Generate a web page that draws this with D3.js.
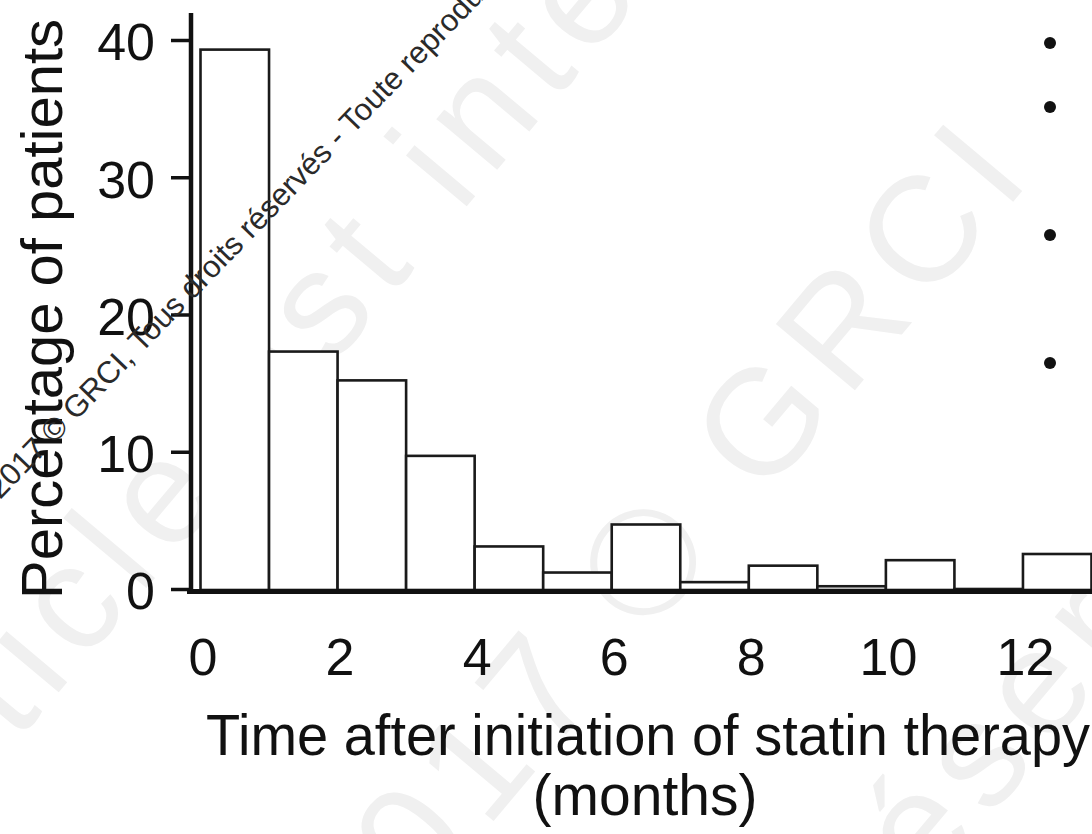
<!DOCTYPE html>
<html>
<head>
<meta charset="utf-8">
<script src="https://cdn.jsdelivr.net/npm/d3@7"></script>
<style>
  html, body { margin: 0; padding: 0; background: #fff; }
  svg { display: block; }
  text { font-family: "Liberation Sans", Arial, Helvetica, sans-serif; }
</style>
</head>
<body>
<svg id="chart" width="1092" height="834"></svg>
<script>
// ---- data ----
const binStarts = [0, 1, 2, 3, 4, 5, 6, 7, 8, 9, 10, 11, 12];
const percentages = [39.3, 17.3, 15.2, 9.7, 3.1, 1.2, 4.7, 0.5, 1.7, 0.2, 2.1, 0, 2.55];
const xTickValues = [0, 2, 4, 6, 8, 10, 12];
const yTickValues = [0, 10, 20, 30, 40];
const legendDotRows = [0, 1, 3, 5];   // bullets of a cropped legend (row index)
const xTitle = "Time after initiation of statin therapy";
const xSubTitle = "(months)";
const yTitle = "Percentage of patients";
const watermarkSmall = "2017 © GRCI, Tous droits réservés - Toute reproduction interdite";
const watermarkBig = [
  "Cet article est intégralement",
  "2017 © GRCI",
  "droits réservés"
];

// ---- layout ----
const svg = d3.select("#chart");
const W = 1092, H = 834;

const x = d3.scaleLinear().domain([0, 13]).range([200.5, 1091.5]);
const y = d3.scaleLinear().domain([0, 40]).range([589, 40]);
const baseY = y(0);
const axisX = 191;

// faint background watermark
const wm = svg.append("g").attr("fill", "#f0f0f0");
const wmAnchors = [[-300, 1120], [361, 979], [560, 1330]];
watermarkBig.forEach((t, i) => {
  wm.append("text")
    .attr("transform", `translate(${wmAnchors[i][0]},${wmAnchors[i][1]}) rotate(-50)`)
    .attr("font-size", 150)
    .attr("letter-spacing", 14)
    .text(t);
});

// bars
svg.append("g").selectAll("rect")
  .data(binStarts)
  .join("rect")
  .attr("x", d => x(d))
  .attr("width", d => x(d + 1) - x(d))
  .attr("y", (d, i) => y(percentages[i]))
  .attr("height", (d, i) => baseY + 1 - y(percentages[i]))
  .attr("fill", "#fff")
  .attr("stroke", "#1a1a1a")
  .attr("stroke-width", 2.6);

// y axis
const yAxis = d3.axisLeft(y).tickValues(yTickValues).tickSize(20).tickPadding(16);
const gy = svg.append("g").attr("transform", `translate(${axisX},0)`).call(yAxis);
gy.select(".domain").remove();
gy.selectAll(".tick line").attr("stroke", "#111").attr("stroke-width", 3.5);
gy.selectAll(".tick text")
  .attr("font-size", 52)
  .attr("fill", "#111")
  .attr("font-family", "Liberation Sans, Arial, sans-serif")
  .attr("dy", "0.38em");
svg.append("line")
  .attr("x1", axisX).attr("x2", axisX)
  .attr("y1", 13).attr("y2", baseY + 5)
  .attr("stroke", "#111").attr("stroke-width", 4.5);

// x axis
const xAxis = d3.axisBottom(x).tickValues(xTickValues).tickSize(0).tickPadding(0);
const gx = svg.append("g").attr("transform", `translate(2,${baseY})`).call(xAxis);
gx.select(".domain").remove();
gx.selectAll(".tick text")
  .attr("font-size", 52)
  .attr("fill", "#111")
  .attr("font-family", "Liberation Sans, Arial, sans-serif")
  .attr("dy", 0)
  .attr("y", 86);
svg.append("line")
  .attr("x1", 187).attr("x2", W)
  .attr("y1", baseY + 2.5).attr("y2", baseY + 2.5)
  .attr("stroke", "#111").attr("stroke-width", 5);

// axis titles
svg.append("text")
  .attr("x", 648).attr("y", 755)
  .attr("text-anchor", "middle")
  .attr("font-size", 57)
  .attr("fill", "#111")
  .attr("textLength", 884)
  .attr("lengthAdjust", "spacingAndGlyphs")
  .text(xTitle);
svg.append("text")
  .attr("x", 645).attr("y", 815)
  .attr("text-anchor", "middle")
  .attr("font-size", 57)
  .attr("fill", "#111")
  .text(xSubTitle);
svg.append("text")
  .attr("transform", "translate(62,309) rotate(-90)")
  .attr("text-anchor", "middle")
  .attr("font-size", 57)
  .attr("fill", "#111")
  .attr("textLength", 580)
  .attr("lengthAdjust", "spacingAndGlyphs")
  .text(yTitle);

// cropped legend bullets
const rowY = d3.scaleLinear().domain([0, 5]).range([43, 363]);
svg.append("g").selectAll("circle")
  .data(legendDotRows)
  .join("circle")
  .attr("cx", 1050)
  .attr("cy", d => rowY(d))
  .attr("r", 6)
  .attr("fill", "#111");

// dark copyright watermark
svg.append("text")
  .attr("transform", "translate(0,500) rotate(-46)")
  .attr("font-size", 31)
  .attr("fill", "#2a2a2a")
  .text(watermarkSmall);
</script>
</body>
</html>
